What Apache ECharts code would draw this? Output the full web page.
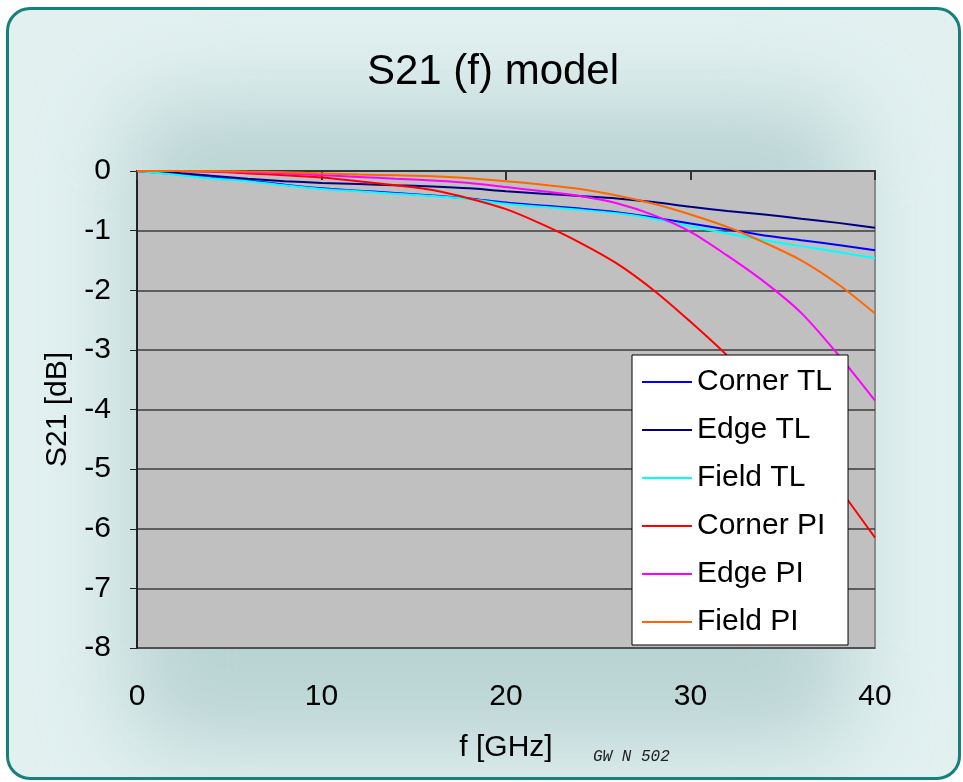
<!DOCTYPE html>
<html>
<head>
<meta charset="utf-8">
<script src="https://cdn.jsdelivr.net/npm/echarts@6/dist/echarts.min.js"></script>
<style>
  html, body { margin: 0; padding: 0; background: #fff; }
  .frame {
    position: absolute; left: 6px; top: 7px; width: 949px; height: 767px;
    border: 3px solid #17807a; border-radius: 24px;
    background: #e2f0f0; overflow: hidden;
  }
  .glow {
    position: absolute; left: 120px; top: 95px; width: 720px; height: 640px;
    background: #b9d3d3; border-radius: 40px; filter: blur(45px);
  }
  #chart { position: absolute; left: 0; top: 0; width: 963px; height: 782px; }
</style>
</head>
<body>
<div class="frame"><div class="glow"></div></div>
<div id="chart"></div>
<script>
// frequency in GHz
var freq = [0, 2, 4, 6, 8, 10, 12, 14, 16, 18, 20, 22, 24, 26, 28, 30, 32, 34, 36, 38, 40];
// S21 in dB
var cornerTL = [0, -0.05, -0.11, -0.16, -0.23, -0.29, -0.33, -0.37, -0.41, -0.46, -0.53, -0.58, -0.63, -0.69, -0.78, -0.88, -0.98, -1.08, -1.16, -1.24, -1.33];
var edgeTL = [0, -0.03, -0.08, -0.13, -0.17, -0.2, -0.22, -0.24, -0.26, -0.29, -0.34, -0.38, -0.42, -0.46, -0.52, -0.6, -0.67, -0.73, -0.8, -0.87, -0.95];
var fieldTL = [0, -0.06, -0.12, -0.17, -0.24, -0.3, -0.34, -0.38, -0.42, -0.47, -0.55, -0.6, -0.65, -0.71, -0.8, -0.93, -1.05, -1.16, -1.26, -1.36, -1.46];
var cornerPI = [0, 0, -0.01, -0.04, -0.07, -0.11, -0.17, -0.24, -0.32, -0.46, -0.64, -0.9, -1.2, -1.55, -2.0, -2.53, -3.1, -3.75, -4.5, -5.3, -6.15];
var edgePI = [0, 0, -0.01, -0.02, -0.04, -0.07, -0.1, -0.13, -0.16, -0.2, -0.27, -0.34, -0.42, -0.54, -0.74, -1.02, -1.42, -1.86, -2.38, -3.08, -3.85];
var fieldPI = [0, 0, 0, -0.01, -0.02, -0.04, -0.06, -0.07, -0.09, -0.12, -0.17, -0.23, -0.3, -0.41, -0.55, -0.73, -0.94, -1.2, -1.5, -1.9, -2.39];

var seriesNames = ["Corner TL", "Edge TL", "Field TL", "Corner PI", "Edge PI", "Field PI"];
var seriesData = [cornerTL, edgeTL, fieldTL, cornerPI, edgePI, fieldPI];
var colors = ["#0000ff", "#000080", "#00ffff", "#ff0000", "#ff00ff", "#ff6600"];

var font = "'Liberation Sans', Arial, sans-serif";

function pairs(vals) {
  return freq.map(function (f, i) { return [f, vals[i]]; });
}

var chart = echarts.init(document.getElementById("chart"));

var series = seriesNames.map(function (name, i) {
  return {
    name: name,
    type: "line",
    xAxisIndex: 0,
    data: pairs(seriesData[i]),
    showSymbol: false,
    smooth: 0.3,
    lineStyle: { color: colors[i], width: 2 },
    itemStyle: { color: colors[i] }
  };
});

var option = {
  animation: false,
  textStyle: { fontFamily: font },
  title: {
    text: "S21 (f) model",
    left: 488,
    top: 46,
    textAlign: "center",
    textStyle: { fontFamily: font, fontSize: 42, fontWeight: "normal", color: "#000" }
  },
  legend: {
    orient: "vertical",
    left: 632,
    top: 355,
    data: seriesNames.map(function (n) { return { name: n, icon: "rect" }; }),
    itemWidth: 50,
    itemHeight: 2,
    itemGap: 18,
    itemTextGap: 8,
    padding: [12, 16, 8, 10],
    backgroundColor: "#fff",
    borderColor: "#000",
    borderWidth: 1,
    borderRadius: 0,
    textStyle: { fontFamily: font, fontSize: 30, color: "#000" }
  },
  grid: {
    left: 137,
    right: 88,
    top: 171,
    bottom: 134,
    show: true,
    backgroundColor: "#c0c0c0",
    borderColor: "#8a8a8a",
    borderWidth: 2
  },
  xAxis: [
    {
      type: "value",
      min: 0,
      max: 40,
      interval: 10,
      position: "bottom",
      name: "f [GHz]",
      nameLocation: "middle",
      nameGap: 85,
      nameTextStyle: { fontFamily: font, fontSize: 30, color: "#000" },
      axisLine: { show: false, onZero: false },
      axisTick: { show: false },
      splitLine: { show: false },
      axisLabel: { margin: 34, fontFamily: font, fontSize: 30, color: "#000" }
    },
    {
      // axis line at 0 dB, ticks pointing into the plot
      type: "value",
      min: 0,
      max: 40,
      interval: 10,
      position: "top",
      axisLine: { show: true, onZero: false, lineStyle: { color: "#333", width: 2 } },
      axisTick: { show: true, inside: true, length: 9, lineStyle: { color: "#333", width: 2 } },
      axisLabel: { show: false },
      splitLine: { show: false }
    }
  ],
  yAxis: {
    type: "value",
    min: -8,
    max: 0,
    interval: 1,
    name: "S21 [dB]",
    nameLocation: "middle",
    nameGap: 64,
    nameTextStyle: { fontFamily: font, fontSize: 30, color: "#000" },
    axisLine: { show: true, lineStyle: { color: "#222", width: 2 } },
    axisTick: { show: true, length: 7, lineStyle: { color: "#222", width: 1 } },
    axisLabel: { margin: 26, fontFamily: font, fontSize: 30, color: "#000" },
    splitLine: { show: true, lineStyle: { color: "#3c3c3c", width: 1.5 } }
  },
  graphic: [
    {
      type: "text",
      left: 593,
      top: 749,
      style: {
        text: "GW N 502",
        font: "italic 16px 'Liberation Mono', 'Courier New', monospace",
        fill: "#222"
      }
    }
  ],
  series: series
};

chart.setOption(option);
</script>
</body>
</html>
